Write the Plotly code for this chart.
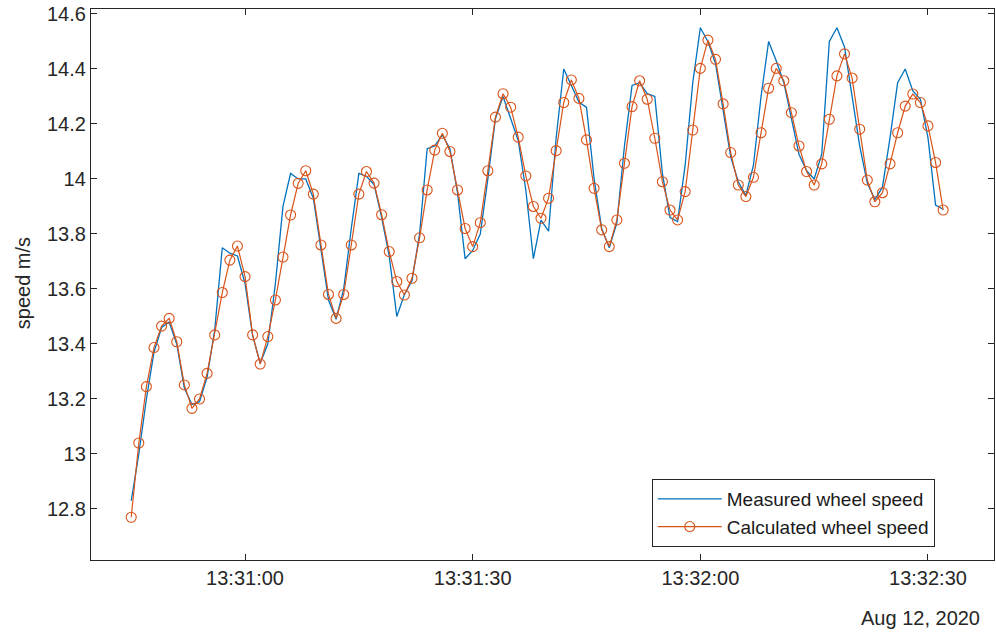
import pandas as pd
import plotly.graph_objects as go

start_time = "2020-08-12 13:30:45"

measured = [12.83, 13.00, 13.20, 13.37, 13.46, 13.48, 13.40, 13.24, 13.18, 13.19,
            13.28, 13.45, 13.75, 13.73, 13.72, 13.62, 13.43, 13.33, 13.40, 13.62,
            13.90, 14.02, 14.00, 14.00, 13.93, 13.75, 13.56, 13.49, 13.60, 13.82,
            14.02, 14.01, 13.98, 13.86, 13.72, 13.50, 13.58, 13.63, 13.80, 14.11,
            14.12, 14.16, 14.11, 13.95, 13.71, 13.74, 13.80, 14.00, 14.22, 14.30,
            14.22, 14.14, 13.96, 13.71, 13.85, 13.81, 14.15, 14.40, 14.34, 14.28,
            14.26, 14.00, 13.82, 13.75, 13.84, 14.12, 14.34, 14.35, 14.31, 14.30,
            14.02, 13.86, 13.845, 14.05, 14.35, 14.55, 14.50, 14.42, 14.25, 14.08,
            13.99, 13.94, 14.05, 14.30, 14.50, 14.43, 14.35, 14.22, 14.09, 14.03,
            14.00, 14.09, 14.50, 14.55, 14.48, 14.30, 14.12, 13.985, 13.925, 13.97,
            14.15, 14.35, 14.40, 14.32, 14.29, 14.15, 13.905, 13.89]

calculated = [12.77, 13.04, 13.245, 13.387, 13.465, 13.493, 13.408, 13.251, 13.166, 13.20,
              13.293, 13.433, 13.587, 13.705, 13.756, 13.645, 13.433, 13.327, 13.427, 13.56,
              13.716, 13.869, 13.984, 14.03, 13.945, 13.76, 13.58, 13.493, 13.58, 13.76,
              13.945, 14.027, 13.985, 13.87, 13.736, 13.627, 13.578, 13.639, 13.786, 13.96,
              14.105, 14.166, 14.10, 13.96, 13.82, 13.754, 13.841, 14.03, 14.225, 14.31,
              14.261, 14.152, 14.011, 13.90, 13.857, 13.93, 14.103, 14.278, 14.36, 14.293,
              14.142, 13.966, 13.815, 13.754, 13.851, 14.057, 14.263, 14.357, 14.29, 14.148,
              13.99, 13.887, 13.851, 13.954, 14.178, 14.402, 14.505, 14.435, 14.273, 14.096,
              13.978, 13.936, 14.006, 14.168, 14.33, 14.402, 14.357, 14.241, 14.12, 14.027,
              13.978, 14.055, 14.217, 14.375, 14.455, 14.367, 14.181, 13.996, 13.917, 13.95,
              14.055, 14.168, 14.265, 14.309, 14.278, 14.193, 14.06, 13.887]

x_tick_vals = ["2020-08-12 13:31:00", "2020-08-12 13:31:30",
               "2020-08-12 13:32:00", "2020-08-12 13:32:30"]
x_tick_text = ["13:31:00", "13:31:30", "13:32:00", "13:32:30"]
y_tick_vals = [12.8, 13.0, 13.2, 13.4, 13.6, 13.8, 14.0, 14.2, 14.4, 14.6]
y_tick_text = ["12.8", "13", "13.2", "13.4", "13.6", "13.8", "14", "14.2", "14.4", "14.6"]
date_label = "Aug 12, 2020"

times = pd.date_range(start_time, periods=len(calculated), freq="s")

FONT = "Liberation Sans, Arial, sans-serif"
AX = "#262626"

fig = go.Figure()
fig.add_trace(go.Scatter(
    x=times, y=measured, mode="lines", name="Measured wheel speed",
    line=dict(color="#0072BD", width=1.3)))
fig.add_trace(go.Scatter(
    x=times, y=calculated, mode="lines+markers", name="Calculated wheel speed",
    line=dict(color="#D95319", width=1.2),
    marker=dict(symbol="circle-open", size=10, color="#D95319",
                line=dict(width=1.1, color="#D95319"))))

fig.update_layout(
    width=996, height=632,
    margin=dict(l=91, r=2, t=9, b=72, autoexpand=False),
    paper_bgcolor="white", plot_bgcolor="white",
    font=dict(family=FONT, size=20, color=AX),
    showlegend=True,
    legend=dict(x=0.621, y=0.147, xanchor="left", yanchor="top",
                bgcolor="white", bordercolor=AX, borderwidth=1,
                font=dict(size=19, color="#1a1a1a"),
                tracegroupgap=0, itemwidth=64),
    xaxis=dict(
        type="date", automargin=False,
        range=["2020-08-12 13:30:39.7", "2020-08-12 13:32:38.7"],
        tickmode="array", tickvals=x_tick_vals, ticktext=x_tick_text,
        ticks="inside", ticklen=6, tickcolor=AX, tickwidth=1,
        showline=True, linecolor=AX, linewidth=1.3, mirror="ticks",
        showgrid=False, zeroline=False, ticklabeloverflow="allow",
        tickfont=dict(size=20, color=AX)),
    yaxis=dict(
        automargin=False,
        range=[12.6145, 14.618],
        tickmode="array", tickvals=y_tick_vals, ticktext=y_tick_text,
        ticks="inside", ticklen=6, tickcolor=AX, tickwidth=1,
        showline=True, linecolor=AX, linewidth=1.3, mirror="ticks",
        showgrid=False, zeroline=False, ticklabeloverflow="allow",
        tickfont=dict(size=20, color=AX)),
    annotations=[
        dict(text="speed m/s", xref="paper", yref="paper",
             x=-0.076, y=0.503, textangle=-90, showarrow=False,
             font=dict(size=20, color=AX), xanchor="center", yanchor="middle"),
        dict(text=date_label, xref="paper", yref="paper",
             x=0.987, y=-0.082, showarrow=False, xanchor="right", yanchor="top",
             font=dict(size=20, color=AX)),
    ],
)

fig.write_html("out.html", config={"displayModeBar": False},
               post_script="document.body.style.margin='0px';")
